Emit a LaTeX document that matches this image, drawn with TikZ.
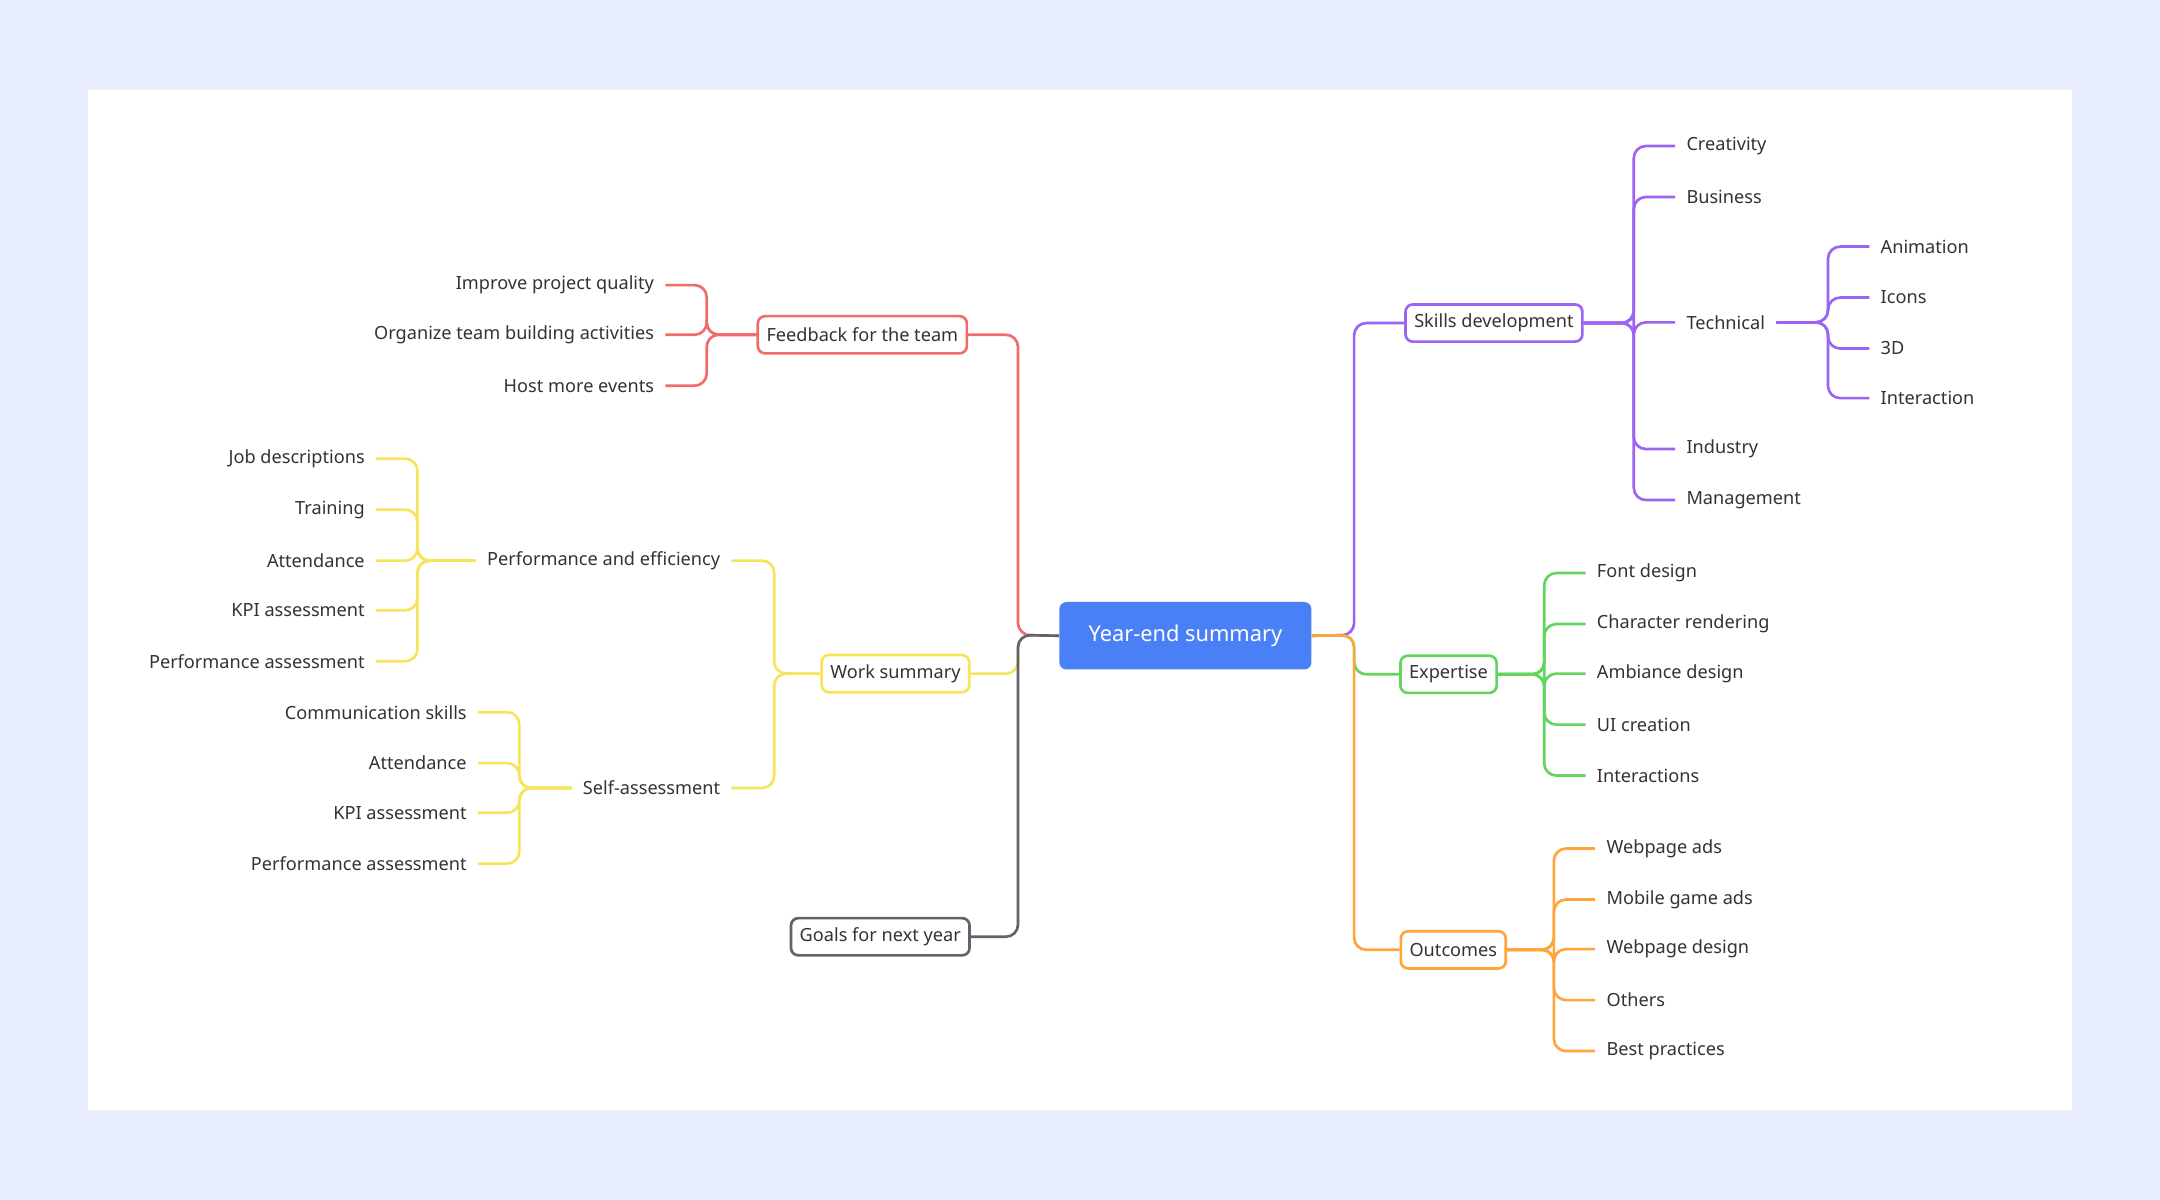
\documentclass[tikz,border=0pt]{standalone}
\usepackage{fontspec}
\setmainfont{Noto Sans}
\definecolor{bgc}{HTML}{E8EEFD}
\definecolor{cred}{HTML}{F26B6B}
\definecolor{cyel}{HTML}{F7E45A}
\definecolor{cgray}{HTML}{62626E}
\definecolor{cpur}{HTML}{9D63F2}
\definecolor{cgrn}{HTML}{63D45E}
\definecolor{corg}{HTML}{FFA53A}
\definecolor{cblue}{HTML}{4A80F6}
\definecolor{txt}{HTML}{333333}
\begin{document}
\begin{tikzpicture}[x=0.02cm,y=-0.02cm,
  every node/.style={font=\fontsize{7.5}{9}\selectfont,text=txt},
  lt/.style={anchor=east,inner xsep=4.5pt,inner ysep=1pt},
  rt/.style={anchor=west,inner xsep=4.5pt,inner ysep=1pt},
  box/.style={draw=#1,line width=1.1pt,rounded corners=3pt,fill=white,minimum height=0.54cm,inner xsep=3.6pt},
  ln/.style={draw=#1,line width=1.1pt,rounded corners=5pt}]
\fill[bgc] (0,0) rectangle (1568,871);
\fill[white] (64,65) rectangle (1504,806);
\node[fill=cblue,rounded corners=3pt,minimum width=183*0.02cm,minimum height=49*0.02cm,text=white,font=\fontsize{9}{11}\selectfont] (c) at (860.5,461.5) {Year-end summary};
% left main
\node[box=cred] (fb) at (626,243) {Feedback for the team};
\node[box=cyel] (ws) at (650,489) {Work summary};
\node[box=cgray] (gl) at (639,680) {Goals for next year};
\draw[ln=cred] (c.west) -- (739,461) |- (fb.east);
\draw[ln=cyel] (c.west) -- (739,461) |- (ws.east);
\draw[ln=cgray] (c.west) -- (739,461) |- (gl.east);
% right main
\node[box=cpur] (sk) at (1084.5,234.5) {Skills development};
\node[box=cgrn] (ex) at (1051.5,489.5) {Expertise};
\node[box=corg] (oc) at (1055,689.5) {Outcomes};
\draw[ln=cpur] (c.east) -- (983,461) |- (sk.west);
\draw[ln=cgrn] (c.east) -- (983,461) |- (ex.west);
\draw[ln=corg] (c.east) -- (983,461) |- (oc.west);
% feedback children
\foreach \t/\y [count=\i] in {Improve project quality/207,Organize team building activities/243,Host more events/280}
 {\node[lt] (f\i) at (483,\y) {\t}; \draw[ln=cred] (fb.west) -- (513,243) |- (f\i.east);}
% work summary children
\node[lt] (pe) at (531,407) {Performance and efficiency};
\node[lt] (sa) at (531,572) {Self-assessment};
\foreach \n in {pe,sa} \draw[ln=cyel] (ws.west) -- (562,489) |- (\n.east);
\foreach \t/\y [count=\i] in {Job descriptions/333,Training/370,Attendance/407,KPI assessment/443,Performance assessment/480}
 {\node[lt] (p\i) at (273,\y) {\t}; \draw[ln=cyel] (pe.west) -- (303,407) |- (p\i.east);}
\foreach \t/\y [count=\i] in {Communication skills/517,Attendance/554,KPI assessment/590,Performance assessment/627}
 {\node[lt] (s\i) at (347,\y) {\t}; \draw[ln=cyel] (sa.west) -- (377,572) |- (s\i.east);}
% skills children
\foreach \t/\y [count=\i] in {Creativity/106,Business/143,Technical/234,Industry/326,Management/363}
 {\node[rt] (k\i) at (1216,\y) {\t}; \draw[ln=cpur] (sk.east) -- (1186,234.5) |- (k\i.west);}
\foreach \t/\y [count=\i] in {Animation/179,Icons/216,3D/253,Interaction/289}
 {\node[rt] (t\i) at (1357,\y) {\t}; \draw[ln=cpur] (k3.east) -- (1327,234) |- (t\i.west);}
% expertise children
\foreach \t/\y [count=\i] in {Font design/416,Character rendering/453,Ambiance design/489,UI creation/526,Interactions/563}
 {\node[rt] (e\i) at (1151,\y) {\t}; \draw[ln=cgrn] (ex.east) -- (1121,489.5) |- (e\i.west);}
% outcomes children
\foreach \t/\y [count=\i] in {Webpage ads/616,Mobile game ads/653,Webpage design/689,Others/726,Best practices/763}
 {\node[rt] (o\i) at (1158,\y) {\t}; \draw[ln=corg] (oc.east) -- (1128,689.5) |- (o\i.west);}
\end{tikzpicture}
\end{document}
